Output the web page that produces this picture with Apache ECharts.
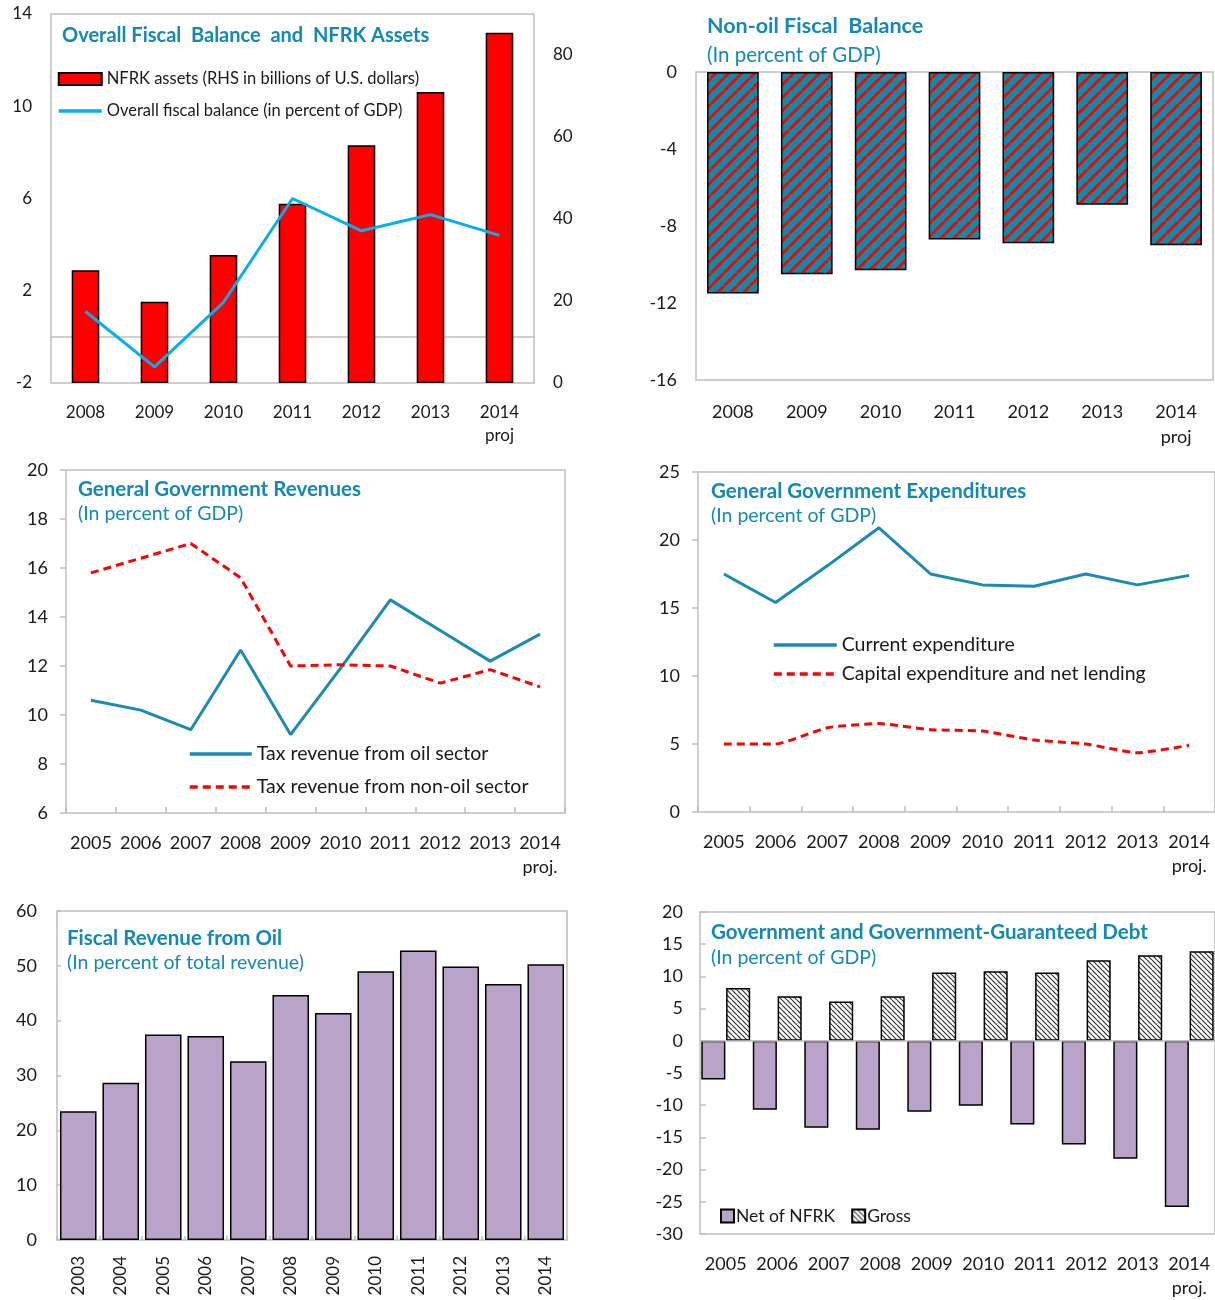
<!DOCTYPE html>
<html>
<head>
<meta charset="utf-8">
<script src="https://cdn.jsdelivr.net/npm/echarts@6/dist/echarts.min.js"></script>
<style>
  body { margin: 0; background: #fff; }
  .panel { position: absolute; }
</style>
</head>
<body>
<div id="c1" class="panel" style="left:0;top:0;width:607px;height:450px"></div>
<div id="c2" class="panel" style="left:607px;top:0;width:608px;height:450px"></div>
<div id="c3" class="panel" style="left:0;top:450px;width:607px;height:440px"></div>
<div id="c4" class="panel" style="left:607px;top:450px;width:608px;height:440px"></div>
<div id="c5" class="panel" style="left:0;top:890px;width:607px;height:410px"></div>
<div id="c6" class="panel" style="left:607px;top:890px;width:608px;height:410px"></div>
<script>
// data
const years1 = ['2008', '2009', '2010', '2011', '2012', '2013', '2014\nproj']
const nfrkAssets = [27.5, 19.8, 31.2, 43.7, 58.0, 71.0, 85.4]
const overallBalance = [1.1, -1.3, 1.5, 6.0, 4.6, 5.3, 4.4]
const nonOilBalance = [-11.5, -10.5, -10.3, -8.7, -8.9, -6.9, -9.0]

const years2 = ['2005', '2006', '2007', '2008', '2009', '2010', '2011', '2012', '2013', '2014\nproj.']
const oilTax = [10.6, 10.2, 9.4, 12.65, 9.2, 11.9, 14.7, 13.45, 12.2, 13.3]
const nonOilTax = [15.8, 16.4, 17.0, 15.6, 12.0, 12.05, 12.0, 11.3, 11.85, 11.15]
const currentExp = [17.5, 15.4, 18.1, 20.9, 17.5, 16.7, 16.6, 17.5, 16.7, 17.4]
const capitalExp = [5.0, 5.0, 6.2, 6.5, 6.05, 5.95, 5.3, 5.0, 4.35, 4.9]

const years3 = ['2003', '2004', '2005', '2006', '2007', '2008', '2009', '2010', '2011', '2012', '2013', '2014']
const oilShare = [23.5, 28.7, 37.5, 37.2, 32.6, 44.7, 41.4, 49.0, 52.8, 49.9, 46.7, 50.3]

const debtNet = [-6.0, -10.7, -13.5, -13.8, -11.0, -10.1, -13.0, -16.1, -18.3, -25.8]
const debtGross = [8.2, 6.9, 6.1, 6.9, 10.6, 10.8, 10.6, 12.5, 13.3, 13.9]

const FONT = 'Lato, "Open Sans", sans-serif'
const TEAL = '#1289b9'
const FRAME = '#bfbfbf'
const TXT = '#1a1a1a'

// diagonal stripe tile used as a fill pattern
function stripes(bg, fg, size, lw, dir) {
  const c = document.createElement('canvas')
  c.width = c.height = size
  const g = c.getContext('2d')
  g.fillStyle = bg
  g.fillRect(0, 0, size, size)
  g.strokeStyle = fg
  g.lineWidth = lw
  for (let k = -1; k <= 1; k++) {
    g.beginPath()
    if (dir === '/') {
      g.moveTo(k * size, size)
      g.lineTo(k * size + size, 0)
    } else {
      g.moveTo(k * size, 0)
      g.lineTo(k * size + size, size)
    }
    g.stroke()
  }
  return { image: c, repeat: 'repeat' }
}

function grid(left, top, width, height) {
  return { left, top, width, height, show: true, borderColor: FRAME, borderWidth: 1.5 }
}

function title(text, sub, left, top, gap, size, subSize) {
  return {
    text, subtext: sub, left, top, padding: 0, itemGap: gap,
    textStyle: { fontFamily: FONT, fontWeight: 'bold', fontSize: size, color: TEAL, lineHeight: 24 },
    subtextStyle: { fontFamily: FONT, fontSize: subSize, color: TEAL, lineHeight: 24 }
  }
}

function catAxis(data, extra) {
  return Object.assign({
    type: 'category', data,
    axisLine: { show: false },
    axisTick: { show: false },
    axisLabel: { fontFamily: FONT, fontSize: 18, color: TXT, margin: 18, lineHeight: 24, interval: 0 },
    splitLine: { show: false }
  }, extra || {})
}

function valAxis(min, max, interval, extra) {
  return Object.assign({
    type: 'value', min, max, interval,
    axisLine: { show: false },
    axisTick: { show: false },
    axisLabel: { fontFamily: FONT, fontSize: 18, color: TXT, margin: 20 },
    splitLine: { show: false }
  }, extra || {})
}

const tickIn = { show: true, inside: true, length: 6, lineStyle: { color: FRAME, width: 1.5 } }
const tickOut = { show: true, inside: false, length: 6, lineStyle: { color: FRAME, width: 1.5 } }
// line legend entries: keep the stroke, hide the marker
const noMark = { opacity: 0 }
const thick = { width: 3.5 }

// 1. Overall fiscal balance and NFRK assets
const chart1 = echarts.init(document.getElementById('c1'))
chart1.setOption({
  animation: false,
  title: title('Overall Fiscal  Balance  and  NFRK Assets', '', 62, 24, 0, 20, 17),
  grid: grid(51, 14, 483, 369),
  legend: {
    orient: 'vertical', left: 57, top: 69, itemWidth: 43, itemHeight: 12, itemGap: 12, padding: 0,
    textStyle: { fontFamily: FONT, fontSize: 16.5, color: TXT, lineHeight: 20 },
    data: [
      { name: 'NFRK assets (RHS in billions of U.S. dollars)', icon: 'rect' },
      { name: 'Overall fiscal balance (in percent of GDP)', itemStyle: noMark, lineStyle: thick }
    ]
  },
  xAxis: catAxis(years1, {
    axisLine: { show: true, onZero: true, onZeroAxisIndex: 0, lineStyle: { color: FRAME, width: 1.5 } },
    axisLabel: { fontFamily: FONT, fontSize: 17, color: TXT, margin: 18, lineHeight: 23, interval: 0 }
  }),
  yAxis: [
    valAxis(-2, 14, 4, { axisLabel: { fontFamily: FONT, fontSize: 17, color: TXT, margin: 19 } }),
    valAxis(0, 90, 20, { position: 'right', axisLabel: { fontFamily: FONT, fontSize: 17, color: TXT, margin: 19, showMaxLabel: false } })
  ],
  series: [
    {
      name: 'NFRK assets (RHS in billions of U.S. dollars)', type: 'bar', yAxisIndex: 1,
      data: nfrkAssets, barWidth: '40%',
      itemStyle: { color: '#ff0000', borderColor: '#000', borderWidth: 1.5 }
    },
    {
      name: 'Overall fiscal balance (in percent of GDP)', type: 'line', yAxisIndex: 0,
      data: overallBalance, symbol: 'none',
      lineStyle: { color: '#00b0f0', width: 3 }, itemStyle: { color: '#00b0f0' }
    }
  ]
})

// 2. Non-oil fiscal balance
const chart2 = echarts.init(document.getElementById('c2'))
chart2.setOption({
  animation: false,
  title: title('Non-oil Fiscal  Balance', '(In percent of GDP)', 100, 14, 5, 21.5, 20.5),
  grid: grid(89, 72, 517, 308),
  xAxis: catAxis(years1, { axisLabel: { fontFamily: FONT, fontSize: 18, color: TXT, margin: 20, lineHeight: 25, interval: 0 } }),
  yAxis: valAxis(-16, 0, 4, { axisLabel: { fontFamily: FONT, fontSize: 18, color: TXT, margin: 19 } }),
  series: [{
    type: 'bar', data: nonOilBalance, barWidth: '70%',
    itemStyle: { color: stripes('#0f8aa8', '#ff0000', 13, 3, '/'), borderColor: '#000', borderWidth: 1.5 }
  }]
})

// 3. General government revenues
const chart3 = echarts.init(document.getElementById('c3'))
chart3.setOption({
  animation: false,
  title: title('General Government Revenues', '(In percent of GDP)', 78, 27, 1, 20.5, 19.5),
  grid: grid(66, 20, 499, 343),
  legend: {
    orient: 'vertical', left: 188, top: 294, itemWidth: 62, itemHeight: 14, itemGap: 13, padding: 0,
    textStyle: { fontFamily: FONT, fontSize: 19.5, color: TXT, lineHeight: 20 },
    data: [
      { name: 'Tax revenue from oil sector', itemStyle: noMark, lineStyle: thick },
      { name: 'Tax revenue from non-oil sector', itemStyle: noMark, lineStyle: thick }
    ]
  },
  xAxis: catAxis(years2, { axisTick: tickIn }),
  yAxis: valAxis(6, 20, 2, { axisTick: tickOut, axisLabel: { fontFamily: FONT, fontSize: 18, color: TXT, margin: 18 } }),
  series: [
    {
      name: 'Tax revenue from oil sector', type: 'line', data: oilTax, symbol: 'none',
      lineStyle: { color: '#1a8ab8', width: 3 }, itemStyle: { color: '#1a8ab8' }
    },
    {
      name: 'Tax revenue from non-oil sector', type: 'line', data: nonOilTax, symbol: 'none',
      lineStyle: { color: '#ff0000', width: 3, type: [8, 5] }, itemStyle: { color: '#ff0000' }
    }
  ]
})

// 4. General government expenditures
const chart4 = echarts.init(document.getElementById('c4'))
chart4.setOption({
  animation: false,
  title: title('General Government Expenditures', '(In percent of GDP)', 104, 29, 1, 20.5, 19.5),
  grid: grid(91, 22, 517, 340),
  legend: {
    orient: 'vertical', left: 165, top: 185, itemWidth: 63, itemHeight: 14, itemGap: 9, padding: 0,
    textStyle: { fontFamily: FONT, fontSize: 19.5, color: TXT, lineHeight: 20 },
    data: [
      { name: 'Current expenditure', itemStyle: noMark, lineStyle: thick },
      { name: 'Capital expenditure and net lending', itemStyle: noMark, lineStyle: thick }
    ]
  },
  xAxis: catAxis(years2, { axisTick: tickIn }),
  yAxis: valAxis(0, 25, 5, { axisTick: tickOut, axisLabel: { fontFamily: FONT, fontSize: 18, color: TXT, margin: 18 } }),
  series: [
    {
      name: 'Current expenditure', type: 'line', data: currentExp, symbol: 'none',
      lineStyle: { color: '#1a8ab8', width: 3 }, itemStyle: { color: '#1a8ab8' }
    },
    {
      name: 'Capital expenditure and net lending', type: 'line', data: capitalExp, symbol: 'none', smooth: 0.15,
      lineStyle: { color: '#ff0000', width: 3, type: [8, 5] }, itemStyle: { color: '#ff0000' }
    }
  ]
})

// 5. Fiscal revenue from oil
const chart5 = echarts.init(document.getElementById('c5'))
chart5.setOption({
  animation: false,
  title: title('Fiscal Revenue from Oil', '(In percent of total revenue)', 67, 36, 1, 20.5, 19.5),
  grid: grid(57, 21, 510, 329),
  xAxis: catAxis(years3, {
    axisTick: { show: true, inside: true, length: 4, lineStyle: { color: FRAME, width: 1.5 } },
    axisLabel: { fontFamily: FONT, fontSize: 17, color: TXT, margin: 16, rotate: 90, interval: 0 }
  }),
  yAxis: valAxis(0, 60, 10, {
    axisTick: { show: true, inside: true, length: 4, lineStyle: { color: FRAME, width: 1.5 } },
    axisLabel: { fontFamily: FONT, fontSize: 18, color: TXT, margin: 20 }
  }),
  series: [{
    type: 'bar', data: oilShare, barCategoryGap: '14%',
    itemStyle: { color: '#b9a3c9', borderColor: '#000', borderWidth: 1.5 }
  }]
})

// 6. Government and government-guaranteed debt
const chart6 = echarts.init(document.getElementById('c6'))
chart6.setOption({
  animation: false,
  title: title('Government and Government-Guaranteed Debt', '(In percent of GDP)', 104, 30, 2, 20.5, 19.5),
  grid: grid(93, 22, 520, 322),
  legend: {
    left: 113, top: 316, itemWidth: 13, itemHeight: 13, itemGap: 16, padding: 0,
    textStyle: { fontFamily: FONT, fontSize: 17.5, color: TXT, lineHeight: 20, padding: [0, 0, 0, -3] },
    data: [{ name: 'Net of NFRK', icon: 'rect' }, { name: 'Gross', icon: 'rect' }]
  },
  xAxis: catAxis(years2, {
    z: 5,
    axisLine: { show: true, onZero: true, lineStyle: { color: FRAME, width: 1.5 } },
    axisLabel: { fontFamily: FONT, fontSize: 18, color: TXT, margin: 18, lineHeight: 24, interval: 0 }
  }),
  yAxis: valAxis(-30, 20, 5, {
    axisTick: { show: true, inside: true, length: 6, lineStyle: { color: FRAME, width: 1.5 } },
    axisLabel: { fontFamily: FONT, fontSize: 18, color: TXT, margin: 17 }
  }),
  series: [
    {
      name: 'Net of NFRK', type: 'bar', data: debtNet, barGap: '3%', barCategoryGap: '5%',
      itemStyle: { color: '#b9a3c9', borderColor: '#000', borderWidth: 1.5 }
    },
    {
      name: 'Gross', type: 'bar', data: debtGross,
      itemStyle: { color: stripes('#ffffff', '#333333', 5, 1.2, '\\'), borderColor: '#000', borderWidth: 1.5 }
    }
  ]
})
</script>
</body>
</html>
